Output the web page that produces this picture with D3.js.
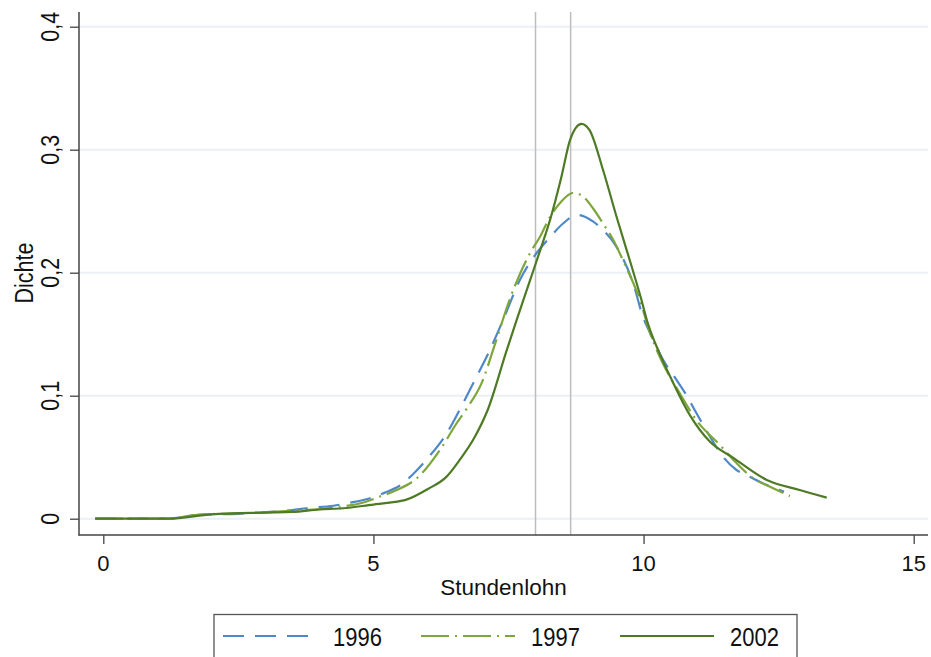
<!DOCTYPE html>
<html>
<head>
<meta charset="utf-8">
<script src="https://cdn.jsdelivr.net/npm/d3@7"></script>
<style>
  html, body { margin: 0; padding: 0; background: #fff; }
  svg { display: block; font-family: "Liberation Sans", Arial, sans-serif; }
</style>
</head>
<body>
<svg id="chart" width="931" height="657"></svg>
<script>
// ---- data ----
const years = ["1996", "1997", "2002"];
const xTicks = [0, 5, 10, 15];
const yTicks = [0, 0.1, 0.2, 0.3, 0.4];
const yTickLabels = ["0", "0,1", "0,2", "0,3", "0,4"];
const refLines = [8.0, 8.65];

const x1996 = [-0.15, 1.2, 1.7, 2.5, 2.9, 3.5, 3.76, 4.26, 4.57, 4.87, 5.2, 5.49, 5.75, 5.98, 6.35, 6.66, 6.88, 7.1, 7.4, 7.71, 8.02, 8.27, 8.51, 8.76, 9.07, 9.22, 9.5, 9.81, 9.99, 10.12, 10.35, 10.61, 10.8, 10.98, 11.23, 11.47, 11.72, 11.9, 12.28, 12.52, 12.6];
const d1996 = [0, 0, 0.003, 0.004, 0.005, 0.007, 0.0085, 0.0105, 0.013, 0.0158, 0.021, 0.027, 0.037, 0.048, 0.069, 0.094, 0.113, 0.132, 0.1615, 0.194, 0.216, 0.229, 0.240, 0.247, 0.2415, 0.236, 0.221, 0.191, 0.164, 0.151, 0.13, 0.1128, 0.1, 0.0857, 0.0667, 0.0504, 0.0396, 0.0355, 0.0274, 0.0233, 0.022];

const x1997 = [-0.15, 1.2, 1.7, 2.9, 3.5, 4.26, 4.8, 5.12, 5.43, 5.8, 6.23, 6.54, 6.75, 7.0, 7.25, 7.52, 7.9, 8.08, 8.27, 8.45, 8.7, 8.88, 9.07, 9.25, 9.44, 9.62, 9.93, 10.12, 10.35, 10.67, 10.98, 11.41, 11.66, 12.03, 12.34, 12.71];
const d1997 = [0, 0, 0.003, 0.005, 0.0065, 0.009, 0.013, 0.018, 0.0233, 0.0328, 0.0558, 0.0776, 0.091, 0.110, 0.142, 0.178, 0.216, 0.229, 0.2455, 0.2565, 0.265, 0.262, 0.252, 0.240, 0.2266, 0.210, 0.178, 0.151, 0.127, 0.102, 0.080, 0.060, 0.048, 0.0328, 0.026, 0.0185];

const x2002 = [-0.15, 1.2, 2.0, 3.0, 3.5, 4.0, 4.44, 5.0, 5.3, 5.61, 6.0, 6.35, 6.6, 6.87, 7.12, 7.46, 7.65, 7.9, 8.1, 8.27, 8.48, 8.64, 8.85, 9.0, 9.25, 9.5, 9.69, 9.78, 9.96, 10.06, 10.3, 10.52, 10.86, 11.23, 11.66, 12.28, 12.89, 13.39];
const d2002 = [0, 0, 0.0035, 0.005, 0.0055, 0.0075, 0.0085, 0.0115, 0.013, 0.0155, 0.024, 0.034, 0.048, 0.066, 0.089, 0.136, 0.1615, 0.194, 0.22, 0.243, 0.278, 0.308, 0.321, 0.316, 0.2835, 0.2455, 0.218, 0.205, 0.178, 0.1615, 0.134, 0.113, 0.084, 0.0625, 0.0495, 0.0315, 0.0233, 0.0171];

const seriesX = [x1996, x1997, x2002];
const seriesD = [d1996, d1997, d2002];
const colors = ["#4f88c9", "#7ea63c", "#4e7a26"];
const dashes = ["21,11", "28,6,2,6", null];

// ---- layout ----
const svg = d3.select("#chart");
const W = 931, H = 657;
svg.append("rect").attr("width", W).attr("height", H).attr("fill", "#fff");

const axisLeftX = 79, axisBottomY = 535, plotTop = 12, plotRight = 928;
const x = d3.scaleLinear().domain([0, 15]).range([103.3, 913.7]);
const y = d3.scaleLinear().domain([0, 0.4]).range([518.7, 26.7]);

// gridlines
svg.append("g").selectAll("line").data(yTicks).join("line")
  .attr("x1", axisLeftX).attr("x2", plotRight)
  .attr("y1", d => y(d)).attr("y2", d => y(d))
  .attr("stroke", "#ebf0f6").attr("stroke-width", 2);

// reference vertical lines
svg.append("g").selectAll("line").data(refLines).join("line")
  .attr("x1", d => x(d)).attr("x2", d => x(d))
  .attr("y1", plotTop).attr("y2", axisBottomY)
  .attr("stroke", "#bdbdbd").attr("stroke-width", 1.5);

// curves
const line = d3.line().x(d => x(d[0])).y(d => y(d[1])).curve(d3.curveMonotoneX);
years.forEach((yr, i) => {
  const pts = seriesX[i].map((v, j) => [v, seriesD[i][j]]);
  svg.append("path").datum(pts)
    .attr("d", line)
    .attr("fill", "none")
    .attr("stroke", colors[i])
    .attr("stroke-width", 2.2)
    .attr("stroke-dasharray", dashes[i])
    .attr("stroke-linejoin", "round");
});

// y axis
const yAxis = d3.axisLeft(y).tickValues(yTicks).tickSize(9).tickFormat("");
const gy = svg.append("g").attr("transform", `translate(${axisLeftX},0)`).call(yAxis);
gy.select(".domain").remove();
gy.selectAll(".tick line").attr("stroke", "#444").attr("stroke-width", 1.3);
svg.append("line").attr("x1", axisLeftX).attr("x2", axisLeftX)
  .attr("y1", plotTop).attr("y2", axisBottomY + 0.5)
  .attr("stroke", "#444").attr("stroke-width", 1.5);
svg.append("g").selectAll("text").data(yTicks).join("text")
  .attr("transform", d => `translate(59,${y(d)}) rotate(-90) scale(1,1.2)`)
  .attr("text-anchor", "middle")
  .attr("font-size", 21.5)
  .attr("fill", "#111")
  .text((d, i) => yTickLabels[i]);

// x axis
const xAxis = d3.axisBottom(x).tickValues(xTicks).tickSize(9).tickFormat("");
const gx = svg.append("g").attr("transform", `translate(0,${axisBottomY})`).call(xAxis);
gx.select(".domain").remove();
gx.selectAll(".tick line").attr("stroke", "#444").attr("stroke-width", 1.3);
svg.append("line").attr("x1", axisLeftX - 0.5).attr("x2", plotRight)
  .attr("y1", axisBottomY).attr("y2", axisBottomY)
  .attr("stroke", "#444").attr("stroke-width", 1.5);
svg.append("g").selectAll("text").data(xTicks).join("text")
  .attr("x", d => x(d)).attr("y", 571)
  .attr("text-anchor", "middle")
  .attr("font-size", 22)
  .attr("fill", "#111")
  .text(d => d);

// axis titles
svg.append("text").attr("x", (axisLeftX + plotRight) / 2).attr("y", 595)
  .attr("text-anchor", "middle").attr("font-size", 22.5).attr("fill", "#111")
  .text("Stundenlohn");
svg.append("text").attr("transform", "translate(33,273) rotate(-90) scale(1,1.2)")
  .attr("text-anchor", "middle").attr("font-size", 21.5).attr("fill", "#111")
  .text("Dichte");

// legend
const lg = svg.append("g");
lg.append("rect").attr("x", 214).attr("y", 614.5).attr("width", 583).attr("height", 70)
  .attr("fill", "#fff").attr("stroke", "#555").attr("stroke-width", 1.3);
const legX = [223, 421, 620];
years.forEach((yr, i) => {
  lg.append("line").attr("x1", legX[i]).attr("x2", legX[i] + 94)
    .attr("y1", 636).attr("y2", 636)
    .attr("stroke", colors[i]).attr("stroke-width", 2.2)
    .attr("stroke-dasharray", dashes[i]);
  lg.append("text")
    .attr("transform", `translate(${legX[i] + 110},646) scale(1,1.2)`)
    .attr("font-size", 22).attr("fill", "#111")
    .text(yr);
});
</script>
</body>
</html>
